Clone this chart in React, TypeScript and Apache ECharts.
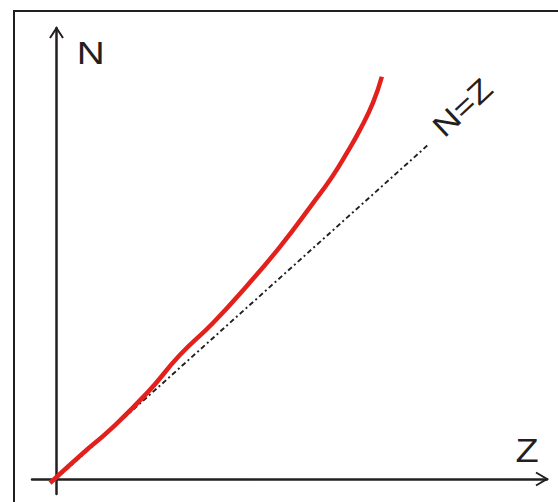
import React, { useEffect, useRef } from "react";
import * as echarts from "echarts";

// Red curve: neutron number N vs proton number Z
const curveZ = [-1.6, 7.3, 14.5, 24.7, 33.3, 42.2, 51.3, 60.2, 69.1, 74.2, 78.2, 81.7, 85.2, 87.6];
const curveN = [-1.2, 7.8, 14.7, 26.0, 37.1, 46.7, 57.8, 69.5, 82.6, 90.4, 97.6, 104.5, 112.6, 120.4];
// N = Z reference line
const diagZ = [0, 100];
const diagN = [0, 100];
// Axis extents
const zRange = [-6.45, 132];
const nRange = [-4.49, 135];
const axisNames = ["Z", "N"];
const diagLabel = "N=Z";

const INK = "#231f20";

export default function App() {
  const ref = useRef<HTMLDivElement>(null);
  useEffect(() => {
    if (!ref.current) return;
    const chart = echarts.init(ref.current, undefined, { renderer: "svg" });
    const axisCommon = {
      type: "value" as const,
      axisLine: { show: true, onZero: true, lineStyle: { color: INK, width: 2.5 } },
      axisTick: { show: false },
      axisLabel: { show: false },
      splitLine: { show: false },
    };
    chart.setOption({
      animation: false,
      backgroundColor: "#ffffff",
      grid: { left: 32, right: 11, top: 28, bottom: 8 },
      xAxis: { ...axisCommon, min: zRange[0], max: zRange[1] },
      yAxis: { ...axisCommon, min: nRange[0], max: nRange[1] },
      series: [
        {
          type: "line",
          data: diagZ.map((z, i) => [z, diagN[i]]),
          symbol: "none",
          lineStyle: { color: INK, width: 1.9, type: [5, 3, 2, 3] },
          z: 2,
        },
        {
          type: "line",
          data: curveZ.map((z, i) => [z, curveN[i]]),
          symbol: "none",
          smooth: 0.5,
          lineStyle: { color: "#e2211c", width: 4.5 },
          z: 3,
        },
      ],
      graphic: [
        {
          type: "rect",
          shape: { x: 14, y: 11, width: 700, height: 700 },
          style: { fill: "none", stroke: INK, lineWidth: 2 },
          silent: true,
        },
        {
          type: "polyline",
          shape: { points: [[50, 38], [56.5, 28], [63, 38]] },
          style: { fill: "none", stroke: INK, lineWidth: 2 },
        },
        {
          type: "polyline",
          shape: { points: [[536, 472.5], [547, 479], [536, 485.5]] },
          style: { fill: "none", stroke: INK, lineWidth: 2 },
        },
        {
          type: "text",
          x: 90.8,
          y: 53,
          scaleX: 1.25,
          style: {
            text: axisNames[1],
            font: "31px 'Liberation Sans', Arial, sans-serif",
            fill: INK,
            align: "center",
            verticalAlign: "middle",
          },
        },
        {
          type: "text",
          x: 527,
          y: 451,
          scaleX: 1.15,
          style: {
            text: axisNames[0],
            font: "33px 'Liberation Sans', Arial, sans-serif",
            fill: INK,
            align: "center",
            verticalAlign: "middle",
          },
        },
        {
          type: "text",
          x: 462.5,
          y: 107.5,
          rotation: (43 * Math.PI) / 180,
          scaleX: 1.2,
          style: {
            text: diagLabel,
            font: "30px 'Liberation Sans', Arial, sans-serif",
            fill: INK,
            align: "center",
            verticalAlign: "middle",
          },
        },
      ],
    });
    return () => chart.dispose();
  }, []);
  return (
    <div
      ref={ref}
      style={{ position: "fixed", left: 0, top: 0, width: 558, height: 502 }}
    />
  );
}
